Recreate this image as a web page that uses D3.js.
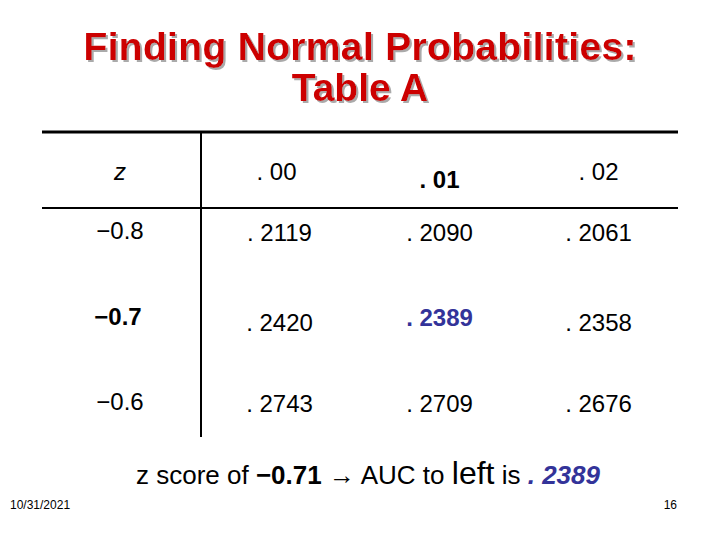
<!DOCTYPE html>
<html><head><meta charset="utf-8">
<script src="https://cdn.jsdelivr.net/npm/d3@7"></script>
<style>body{margin:0;background:#fff}</style></head>
<body><svg id="c" width="720" height="540"></svg>
<script>
const colHeaders = [". 00", ". 01", ". 02"];
const rowLabels = ["\u22120.8", "\u22120.7", "\u22120.6"];
const values = [
  [". 2119", ". 2090", ". 2061"],
  [". 2420", ". 2389", ". 2358"],
  [". 2743", ". 2709", ". 2676"]
];
const highlightRow = 1, highlightCol = 1;

const svg = d3.select("#c");
const F = "Arial, 'Liberation Sans', sans-serif";

const defs = svg.append("defs");
defs.append("filter").attr("id", "sh").attr("x", "-5%").attr("y", "-20%").attr("width", "110%").attr("height", "140%")
  .append("feDropShadow").attr("dx", 2).attr("dy", 2).attr("stdDeviation", 0.5).attr("flood-color", "#aaa");

const titleLines = ["Finding Normal Probabilities:", "Table A"];
titleLines.forEach((t, i) => {
  svg.append("text").attr("x", 360).attr("y", 60 + i * 41)
    .attr("text-anchor", "middle").attr("font-family", F).attr("font-weight", "bold")
    .attr("font-size", 39).attr("textLength", i === 0 ? 553 : null)
    .attr("fill", "#cc0000").attr("filter", "url(#sh)").text(t);
});

const x = d3.scaleBand().domain(["z", ...colHeaders]).range([42, 678]);
const xc = d => x(d) + x.bandwidth() / 2;
const y = d3.scaleBand().domain(rowLabels).range([208, 437]);
const yc = d => y(d) + y.bandwidth() / 2;

svg.append("line").attr("x1", 42).attr("x2", 678).attr("y1", 132).attr("y2", 132).attr("stroke", "#000").attr("stroke-width", 3);
svg.append("line").attr("x1", 42).attr("x2", 678).attr("y1", 208).attr("y2", 208).attr("stroke", "#000").attr("stroke-width", 2);
svg.append("line").attr("x1", 201).attr("x2", 201).attr("y1", 132).attr("y2", 437).attr("stroke", "#000").attr("stroke-width", 2);

const txt = (xx, yy, t, o = {}) => svg.append("text").attr("x", xx).attr("y", yy)
  .attr("text-anchor", "middle").attr("font-family", F).attr("font-size", o.size || 24)
  .attr("font-weight", o.bold ? "bold" : "normal").attr("font-style", o.italic ? "italic" : "normal")
  .attr("fill", o.fill || "#000").text(t);

txt(120, 180, "z", { italic: true });
colHeaders.forEach((h, j) => {
  const hl = j === highlightCol;
  txt(xc(h) + (j === 0 ? -4 : 0), hl ? 188 : 180, h, { bold: hl });
});

rowLabels.forEach((r, i) => {
  const hl = i === highlightRow;
  const yy = yc(r) + (i === 0 ? -7 : i === 1 ? 6 : 11);
  txt(120 - (i === 1 ? 2 : 0), yy + (hl ? -4 : 0), r, { bold: hl });
  values[i].forEach((v, j) => {
    const cell = hl && j === highlightCol;
    txt(xc(colHeaders[j]) + (j === 0 ? -1 : 0), cell ? yy - 3 : yy + 2, v,
      { bold: cell, fill: cell ? "#333399" : "#000" });
  });
});

const cap = svg.append("text").attr("x", 368).attr("y", 484).attr("text-anchor", "middle")
  .attr("font-family", F).attr("font-size", 26);
cap.append("tspan").text("z score of ");
cap.append("tspan").attr("font-weight", "bold").text("\u22120.71");
cap.append("tspan").text(" \u2192 AUC to ");
cap.append("tspan").attr("font-size", 32).text("left");
cap.append("tspan").text(" is ");
cap.append("tspan").attr("font-weight", "bold").attr("font-style", "italic").attr("fill", "#333399").text(". 2389");

svg.append("text").attr("x", 10).attr("y", 509).attr("font-family", F).attr("font-size", 12).text("10/31/2021");
svg.append("text").attr("x", 677).attr("y", 509).attr("text-anchor", "end").attr("font-family", F).attr("font-size", 12).text("16");
</script></body></html>
